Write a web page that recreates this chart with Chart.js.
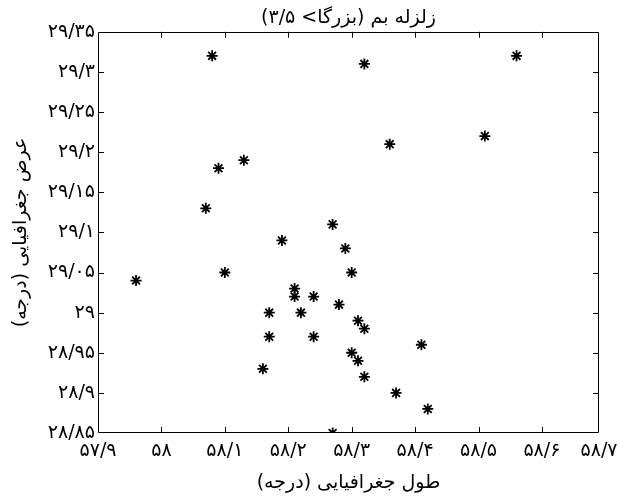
<!DOCTYPE html>
<html><head><meta charset="utf-8">
<script src="https://cdn.jsdelivr.net/npm/chart.js@4"></script>
<style>html,body{margin:0;padding:0;background:#fff;overflow:hidden;}</style>
</head><body>
<canvas id="c" width="619" height="497" dir="rtl"></canvas>
<script>
const titleText = 'زلزله بم (بزرگا> ۳/۵)';
const xTitle = 'طول جغرافیایی (درجه)';
const yTitle = 'عرض جغرافیایی (درجه)';

// epicentres: longitude / latitude (degrees)
const lon = [58.08, 58.32, 58.56, 58.51, 58.36, 58.13, 58.09, 58.07, 58.27, 58.19, 58.29,
             57.96, 58.10, 58.30, 58.21, 58.21, 58.24, 58.28, 58.17, 58.22, 58.31, 58.32,
             58.17, 58.24, 58.41, 58.30, 58.31, 58.16, 58.32, 58.37, 58.42, 58.27];
const lat = [29.32, 29.31, 29.32, 29.22, 29.21, 29.19, 29.18, 29.13, 29.11, 29.09, 29.08,
             29.04, 29.05, 29.05, 29.03, 29.02, 29.02, 29.01, 29.00, 29.00, 28.99, 28.98,
             28.97, 28.97, 28.96, 28.95, 28.94, 28.93, 28.92, 28.90, 28.88, 28.85];

const xMin = 57.9, xMax = 58.69;   // right frame edge in the picture falls just short of 58.7
const yMin = 28.85, yMax = 29.35;
const xTickValues = [57.9, 58.0, 58.1, 58.2, 58.3, 58.4, 58.5, 58.6, 58.69];
const xTickLabels = ['۵۷/۹','۵۸','۵۸/۱','۵۸/۲','۵۸/۳','۵۸/۴','۵۸/۵','۵۸/۶','۵۸/۷'];
const yTickValues = [28.85, 28.9, 28.95, 29.0, 29.05, 29.1, 29.15, 29.2, 29.25, 29.3, 29.35];
const yTickLabels = ['۲۸/۸۵','۲۸/۹','۲۸/۹۵','۲۹','۲۹/۰۵','۲۹/۱','۲۹/۱۵','۲۹/۲','۲۹/۲۵','۲۹/۳','۲۹/۳۵'];

const FONT = "'DejaVu Sans', sans-serif";
Chart.defaults.color = '#000';
Chart.defaults.font.family = FONT;

const points = lon.map((x, i) => ({x: x, y: lat[i]}));

const frame = {
  id: 'frame',
  afterDatasetsDraw(chart) {
    const {ctx, chartArea: a, scales: {x, y}} = chart;
    ctx.save();
    ctx.strokeStyle = '#000';
    ctx.lineWidth = 1;
    ctx.beginPath();
    ctx.rect(Math.round(a.left) + 0.5, Math.round(a.top) + 0.5,
             Math.round(a.right - a.left) - 1, Math.round(a.bottom - a.top) - 1);
    const L = 6;
    x.ticks.forEach(t => {
      const px = Math.round(x.getPixelForValue(t.value)) + 0.5;
      if (px < a.left + 2 || px > a.right - 2) return;
      ctx.moveTo(px, a.bottom); ctx.lineTo(px, a.bottom - L);
      ctx.moveTo(px, a.top); ctx.lineTo(px, a.top + L);
    });
    y.ticks.forEach(t => {
      const py = Math.round(y.getPixelForValue(t.value)) + 0.5;
      if (py < a.top + 2 || py > a.bottom - 2) return;
      ctx.moveTo(a.left, py); ctx.lineTo(a.left + L, py);
      ctx.moveTo(a.right, py); ctx.lineTo(a.right - L, py);
    });
    ctx.stroke();
    ctx.restore();
  }
};

new Chart(document.getElementById('c'), {
  type: 'scatter',
  data: {
    datasets: [{
      data: points,
      pointStyle: 'star',
      pointRadius: 5.5,
      borderWidth: 1.8,
      borderColor: '#000',
      backgroundColor: '#000',
      clip: 0
    }]
  },
  plugins: [frame],
  options: {
    responsive: false,
    animation: false,
    events: [],
    layout: {padding: {left: 0, right: 20, top: 0, bottom: 0}},
    plugins: {
      legend: {display: false},
      tooltip: {enabled: false},
      title: {
        display: true,
        text: titleText,
        fullSize: false,
        color: '#000',
        font: {family: FONT, size: 19, weight: 'normal', lineHeight: 1.2},
        padding: {top: 7, bottom: 2}
      }
    },
    scales: {
      x: {
        type: 'linear',
        min: xMin, max: xMax,
        afterBuildTicks: s => { s.ticks = xTickValues.map(v => ({value: v})); },
        afterFit: s => { s.height = 64; s.paddingLeft = 0; s.paddingRight = 0; },
        grid: {display: false, drawTicks: false},
        border: {display: false},
        ticks: {
          autoSkip: false, maxRotation: 0, padding: 7,
          font: {family: FONT, size: 19},
          callback: (v, i) => xTickLabels[i]
        },
        title: {
          display: true, text: xTitle,
          font: {family: FONT, size: 19, lineHeight: 1.2},
          padding: {top: 0, bottom: 3}
        }
      },
      y: {
        type: 'linear',
        min: yMin, max: yMax,
        afterBuildTicks: s => { s.ticks = yTickValues.map(v => ({value: v})); },
        afterFit: s => { s.width = 98; s.paddingTop = 0; s.paddingBottom = 0; },
        grid: {display: false, drawTicks: false},
        border: {display: false},
        ticks: {
          autoSkip: false, padding: 3,
          font: {family: FONT, size: 19},
          callback: (v, i) => yTickLabels[i]
        },
        title: {
          display: true, text: yTitle,
          font: {family: FONT, size: 19, lineHeight: 1.2},
          padding: {top: 10, bottom: 0}
        }
      }
    }
  }
});
</script>
</body></html>
